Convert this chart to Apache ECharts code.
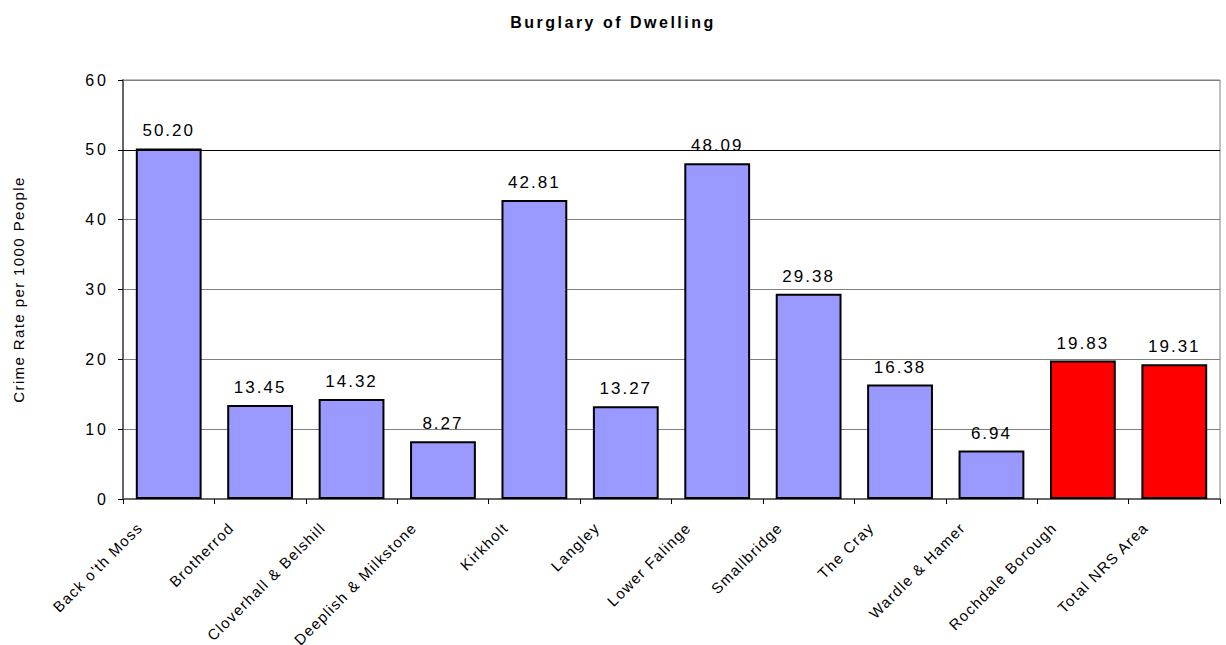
<!DOCTYPE html>
<html>
<head>
<meta charset="utf-8">
<script src="https://cdn.jsdelivr.net/npm/echarts@6/dist/echarts.min.js"></script>
<style>
  html, body { margin: 0; padding: 0; background: #fff; }
  #chart { width: 1226px; height: 645px; }
</style>
</head>
<body>
<div id="chart"></div>
<script>
const areas = ["Back o'th Moss", "Brotherrod", "Cloverhall & Belshill", "Deeplish & Milkstone",
    "Kirkholt", "Langley", "Lower Falinge", "Smallbridge", "The Cray", "Wardle & Hamer",
    "Rochdale Borough", "Total NRS Area"];
const rates = [50.20, 13.45, 14.32, 8.27, 42.81, 13.27, 48.09, 29.38, 16.38, 6.94, 19.83, 19.31];
// the two comparison bars are drawn in red
const totals = ["Rochdale Borough", "Total NRS Area"];
const yTicks = [0, 10, 20, 30, 40, 50, 60];

const titleText = "Burglary of Dwelling";
const yName = "Crime Rate per 1000 People";
const font = "Liberation Sans, Arial, sans-serif";

let chart = echarts.init(document.querySelector("#chart"), null, { renderer: "svg" });

let option = {
    animation: false,
    title: {
        text: titleText,
        left: "center",
        top: 9,
        textStyle: { fontFamily: font, fontSize: 16, fontWeight: "bold", color: "#000" }
    },
    grid: { left: 123, right: 6, top: 80, bottom: 146, containLabel: false },
    xAxis: {
        type: "category",
        data: areas,
        axisLine: { lineStyle: { color: "#666", width: 2 } },
        axisTick: { show: true, length: 5, lineStyle: { color: "#000" } },
        axisLabel: {
            interval: 0,
            rotate: 45,
            margin: -3,
            padding: [0, 41, 0, 0],
            fontFamily: font,
            fontSize: 15,
            color: "#000"
        }
    },
    yAxis: {
        type: "value",
        min: yTicks[0],
        max: yTicks[yTicks.length - 1],
        interval: 10,
        name: yName,
        nameLocation: "middle",
        nameGap: 97,
        nameTextStyle: { fontFamily: font, fontSize: 15, color: "#000" },
        axisLine: { show: true, lineStyle: { color: "#666", width: 2 } },
        axisTick: { show: true, length: 5, lineStyle: { color: "#000" } },
        axisLabel: { fontFamily: font, fontSize: 16, color: "#000", margin: 14 },
        splitLine: { lineStyle: { color: "#808080", width: 1 } }
    },
    series: [{
        type: "bar",
        data: rates.map((v, i) => ({
            value: v,
            itemStyle: { color: totals.includes(areas[i]) ? "#FF0000" : "#9999FF" }
        })),
        barWidth: "72%",
        itemStyle: { borderColor: "#000", borderWidth: 2 },
        label: {
            show: true,
            position: "top",
            distance: 9,
            formatter: p => p.value.toFixed(2),
            fontFamily: font,
            fontSize: 17,
            color: "#000"
        },
        markLine: {
            silent: true,
            symbol: "none",
            label: { show: false },
            lineStyle: { color: "#000", width: 1, type: "solid" },
            data: [{ yAxis: 50 }]
        }
    }],
    graphic: [{
        type: "rect",
        shape: { x: 123, y: 80, width: 1097, height: 419 },
        style: { fill: "none", stroke: "#808080", lineWidth: 1 },
        silent: true
    }]
};

chart.setOption(option);

// the original Excel export draws its text loosely spaced
function spaceText() {
    document.querySelectorAll("#chart text").forEach(t => {
        const s = t.textContent;
        let ls = "2px";
        if (s === titleText) ls = "2.5px";
        else if (s === yName) ls = "1.4px";
        else if (areas.includes(s)) ls = "1.3px";
        else if (yTicks.map(String).includes(s)) ls = "3px";
        t.style.letterSpacing = ls;
    });
}
chart.on("finished", spaceText);
spaceText();
</script>
</body>
</html>
